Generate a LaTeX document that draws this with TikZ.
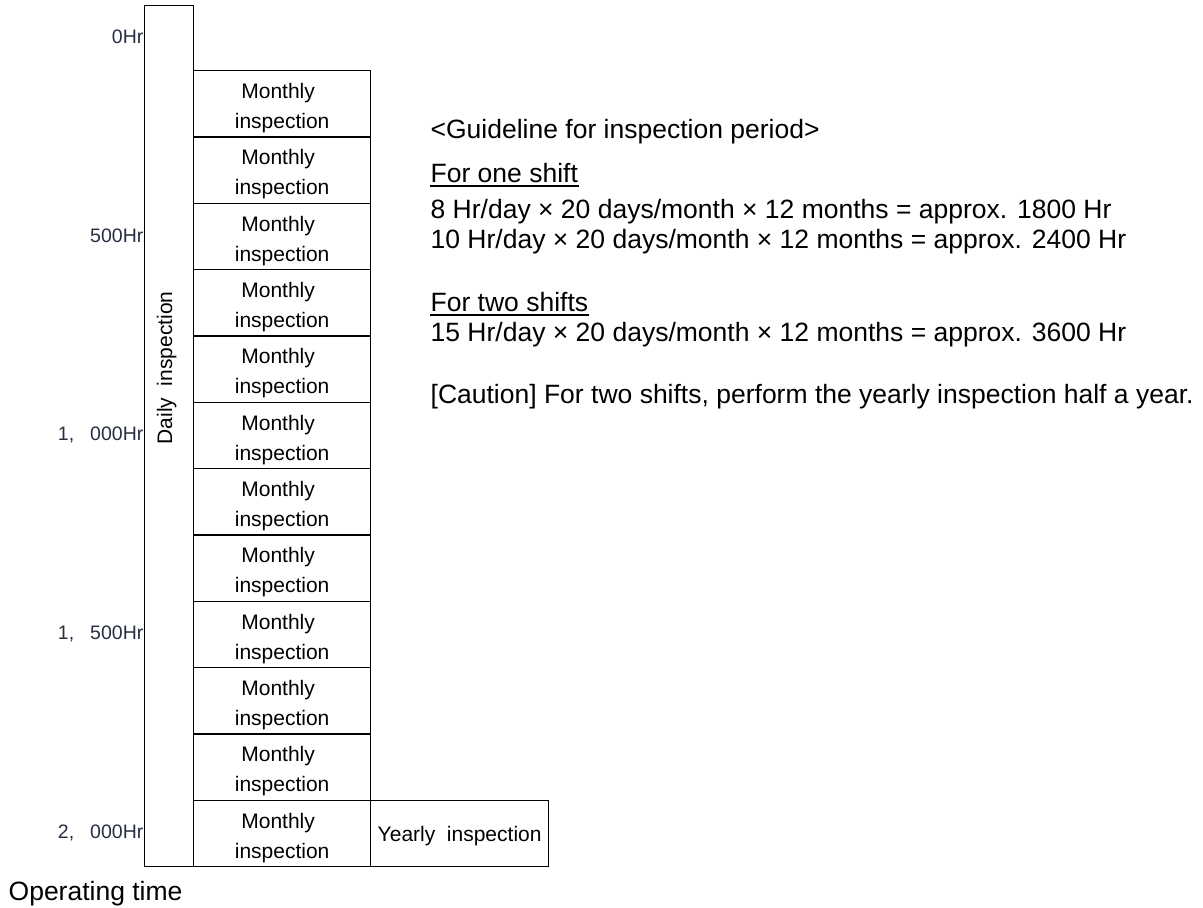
\documentclass[tikz,border=0pt]{standalone}
\usepackage{fontspec}
\setmainfont{Liberation Sans}
\definecolor{labelc}{RGB}{40,46,66}
\begin{document}
\begin{tikzpicture}[x=1pt,y=-1pt, line width=1.3pt,
  box/.style={draw, inner sep=0pt, anchor=north west},
  mtext/.style={align=center, font=\fontsize{21}{30}\selectfont, inner sep=0pt},
  hrlabel/.style={anchor=east, inner sep=0pt, text=labelc, font=\fontsize{19.5}{19.5}\selectfont},
  gtext/.style={anchor=base west, inner sep=0pt, font=\fontsize{26.5}{30}\selectfont},
  uline/.style={line width=1.8pt}]
\useasboundingbox (0,0) rectangle (1203,908);
% daily column
\node[box, minimum width=49pt, minimum height=861pt] (d) at (144,5) {};
\node[rotate=90, anchor=base west, inner sep=0pt, font=\fontsize{21}{21}\selectfont] (dt) at (172,445) {Daily\ \ inspection};
% monthly boxes
\foreach \i in {1,...,12} {
  \node[box, minimum width=177pt, minimum height=66.333pt] (m\i) at (193,{70+66.333*(\i-1)}) {};
  \node[mtext] (mt\i) at ([yshift=-4.4pt]m\i.center) {Monthly\hspace*{8pt}\\inspection};
}
% yearly box
\node[box, minimum width=178pt, minimum height=66.333pt] (y) at (370,799.67) {};
\node[mtext] (yt) at ([yshift=-3pt]y.center) {Yearly\ \ inspection};
% hour labels
\node[hrlabel] (h0) at (144,37) {0Hr};
\node[hrlabel] (h500) at (144,236) {500Hr};
\node[hrlabel] (h1000) at (144,435) {1,\kern16pt 000Hr};
\node[hrlabel] (h1500) at (144,634) {1,\kern16pt 500Hr};
\node[hrlabel] (h2000) at (144,833) {2,\kern16pt 000Hr};
% guideline text
\node[gtext] (g1) at (430,138) {<Guideline for inspection period>};
\node[gtext] (g2) at (430,182) {For one shift};
\draw[uline] ([yshift=-4pt]g2.base west) -- ([yshift=-4pt]g2.base east);
\node[gtext] (g3) at (430,218) {8 Hr/day × 20 days/month × 12 months = approx. 1800 Hr};
\node[gtext] (g4) at (430,248) {10 Hr/day × 20 days/month × 12 months = approx. 2400 Hr};
\node[gtext] (g5) at (430,311) {For two shifts};
\draw[uline] ([yshift=-4pt]g5.base west) -- ([yshift=-4pt]g5.base east);
\node[gtext] (g6) at (430,341) {15 Hr/day × 20 days/month × 12 months = approx. 3600 Hr};
\node[gtext] (g7) at (430,403) {[Caution] For two shifts, perform the yearly inspection half a year.};
% axis caption
\node[gtext] (ot) at (8,900) {Operating time};
\end{tikzpicture}
\end{document}
